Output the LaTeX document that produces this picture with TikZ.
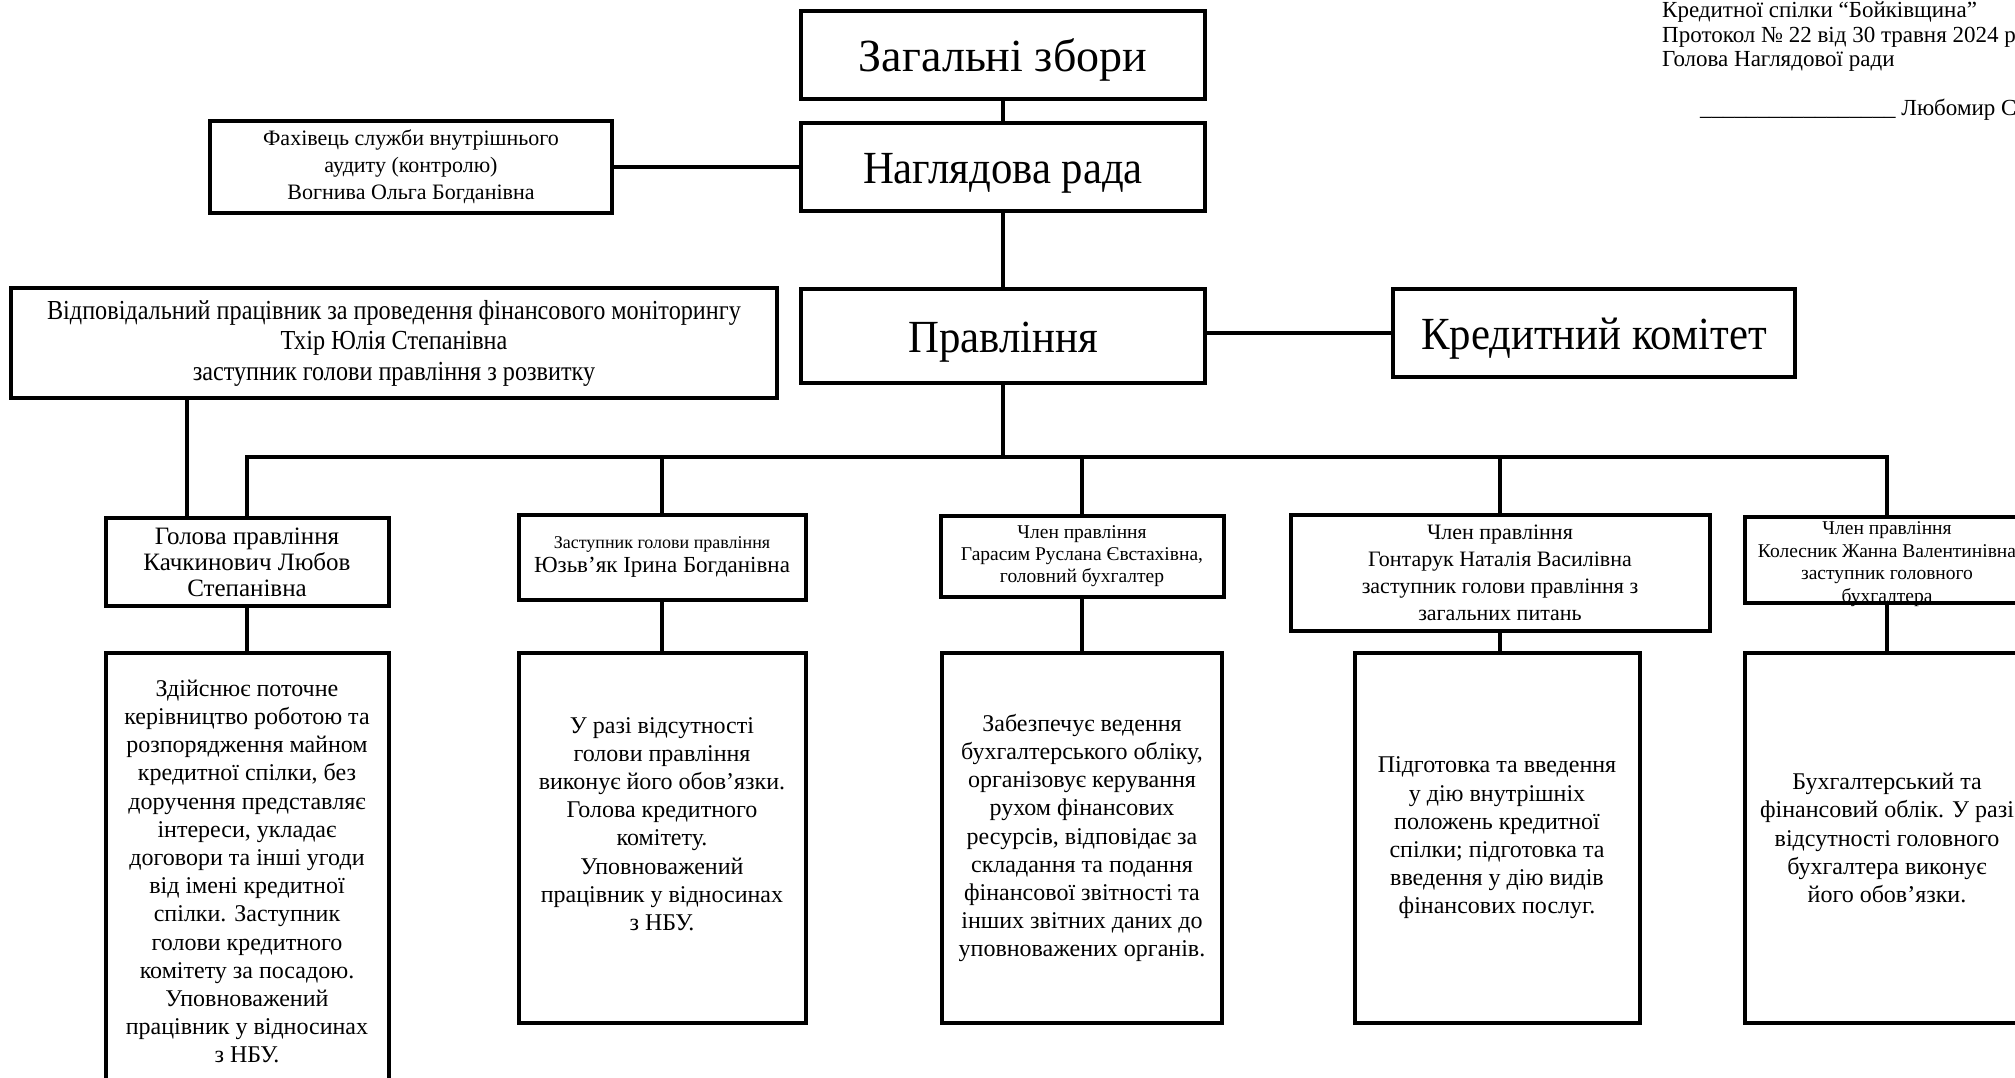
\documentclass[tikz,border=0pt]{standalone}
\usepackage{fontspec}
\setmainfont{Liberation Serif}
\newfontfamily\narrowserif[FakeStretch=0.93]{Liberation Serif}
\newfontfamily\tightserif[FakeStretch=0.88]{Liberation Serif}
\usetikzlibrary{calc}

\begin{document}
\begin{tikzpicture}[x=1pt,y=-1pt]
\tikzset{
    orgbox/.style={draw, line width=4pt, align=center, inner sep=0pt},
    headbox/.style={orgbox, font=\fontsize{46}{52}\selectfont, text height=33pt, text depth=0pt,
        minimum width=404, minimum height=88},
    memberbox/.style={orgbox, minimum width=283, minimum height=86},
    dutybox/.style={orgbox, font=\fontsize{24}{28.2}\selectfont, minimum width=284, minimum height=370},
    wire/.style={line width=4pt}
}

% Page
\path[use as bounding box, fill=white] (0,0) rectangle (2015,1078);

% Approval note
\node[anchor=north west, align=left, inner sep=0pt, font=\fontsize{23}{24.5}\selectfont] (zatv) at (1662,2)
    {Кредитної спілки “Бойківщина”\\Протокол № 22 від 30 травня 2024 р\\Голова Наглядової ради\\[24.5pt]
     \hspace{38pt}\_\_\_\_\_\_\_\_\_\_\_\_\_\_\_\_\_ Любомир С};

% Governing bodies
\node[headbox] (zbory) at (1003,55) {Загальні збори};
\node[headbox, font=\narrowserif\fontsize{46}{52}\selectfont] (rada) at (1003,167) {Наглядова рада};
\node[headbox, font=\narrowserif\fontsize{46}{52}\selectfont, minimum height=94] (pravlinnia) at (1003,336) {Правління};
\node[headbox, font=\narrowserif\fontsize{46}{52}\selectfont, minimum width=402] (komitet) at (1594,333) {Кредитний комітет};

% Staff
\node[orgbox, font=\fontsize{22}{27}\selectfont, minimum width=402, minimum height=92] (audyt) at (411,167)
    {Фахівець служби внутрішнього\\аудиту (контролю)\\Вогнива Ольга Богданівна};
\node[orgbox, font=\tightserif\fontsize{27.5}{30.5}\selectfont, minimum width=766, minimum height=110] (monitor) at (394,343)
    {Відповідальний працівник за проведення фінансового моніторингу\\Тхір Юлія Степанівна\\заступник голови правління з розвитку};

% Board members
\node[memberbox, font=\fontsize{25}{26}\selectfont, minimum height=88] (holova) at (247,562)
    {Голова правління\\Качкинович Любов\\Степанівна};
\node[memberbox, font=\fontsize{23}{24}\selectfont, minimum width=287, minimum height=85] (zastupnyk) at (662,557)
    {{\fontsize{18}{21}\selectfont Заступник голови правління}\\Юзьв’як Ірина Богданівна};
\node[memberbox, font=\fontsize{19.5}{22}\selectfont, minimum height=81] (harasym) at (1082,556)
    {Член правління\\Гарасим Руслана Євстахівна,\\головний бухгалтер};
\node[memberbox, font=\fontsize{22}{27}\selectfont, minimum width=419, minimum height=116] (hontaruk) at (1500,573)
    {Член правління\\Гонтарук Наталія Василівна\\заступник голови правління з\\загальних питань};
\node[memberbox, minimum width=284] (kolesnyk) at (1887,560) {};
\node[align=center, inner sep=0pt, font=\fontsize{19.5}{22.5}\selectfont] (kolesnyktext) at (1887,564)
    {Член правління\\Колесник Жанна Валентинівна\\заступник головного\\бухгалтера};

% Duties
\node[dutybox, minimum width=283, minimum height=437] (zdiysniuie) at (247,871.5)
    {Здійснює поточне\\керівництво роботою та\\розпорядження майном\\кредитної спілки, без\\доручення представляє\\інтереси, укладає\\договори та інші угоди\\від імені кредитної\\спілки. Заступник\\голови кредитного\\комітету за посадою.\\Уповноважений\\працівник у відносинах\\з НБУ.};
\node[dutybox, minimum width=287] (urazi) at (662,838)
    {У разі відсутності\\голови правління\\виконує його обов’язки.\\Голова кредитного\\комітету.\\Уповноважений\\працівник у відносинах\\з НБУ.\\ \mbox{}};
\node[dutybox, minimum width=280] (zabezpechuie) at (1082,838)
    {Забезпечує ведення\\бухгалтерського обліку,\\організовує керування\\рухом фінансових\\ресурсів, відповідає за\\складання та подання\\фінансової звітності та\\інших звітних даних до\\уповноважених органів.};
\node[dutybox, minimum width=285] (pidhotovka) at (1497,838)
    {Підготовка та введення\\у дію внутрішніх\\положень кредитної\\спілки; підготовка та\\введення у дію видів\\фінансових послуг.};
\node[dutybox] (bukhhalter) at (1887,838)
    {Бухгалтерський та\\фінансовий облік. У разі\\відсутності головного\\бухгалтера виконує\\його обов’язки.};

% Connectors
\coordinate (bus) at (1003,457);
\coordinate (kontrol) at ($(holova.north)+(-60,0)$);

\draw[wire] (zbory) -- (rada);
\draw[wire] (audyt) -- (rada);
\draw[wire] (rada) -- (pravlinnia);
\draw[wire] (pravlinnia.east |- komitet.west) -- (komitet.west);
\draw[wire] (pravlinnia) -- (bus);
\draw[wire] (holova.north) |- (bus) -| (kolesnyk.north);
\foreach \m in {zastupnyk,harasym,hontaruk}
    \draw[wire] (bus -| \m.north) -- (\m.north);
\draw[wire] (kontrol) -- (kontrol |- monitor.south);

\foreach \a/\b in {holova/zdiysniuie,zastupnyk/urazi,harasym/zabezpechuie,hontaruk/pidhotovka,kolesnyk/bukhhalter}
    \draw[wire] (\a.south) -- (\a.south |- \b.north);

\end{tikzpicture}
\end{document}
